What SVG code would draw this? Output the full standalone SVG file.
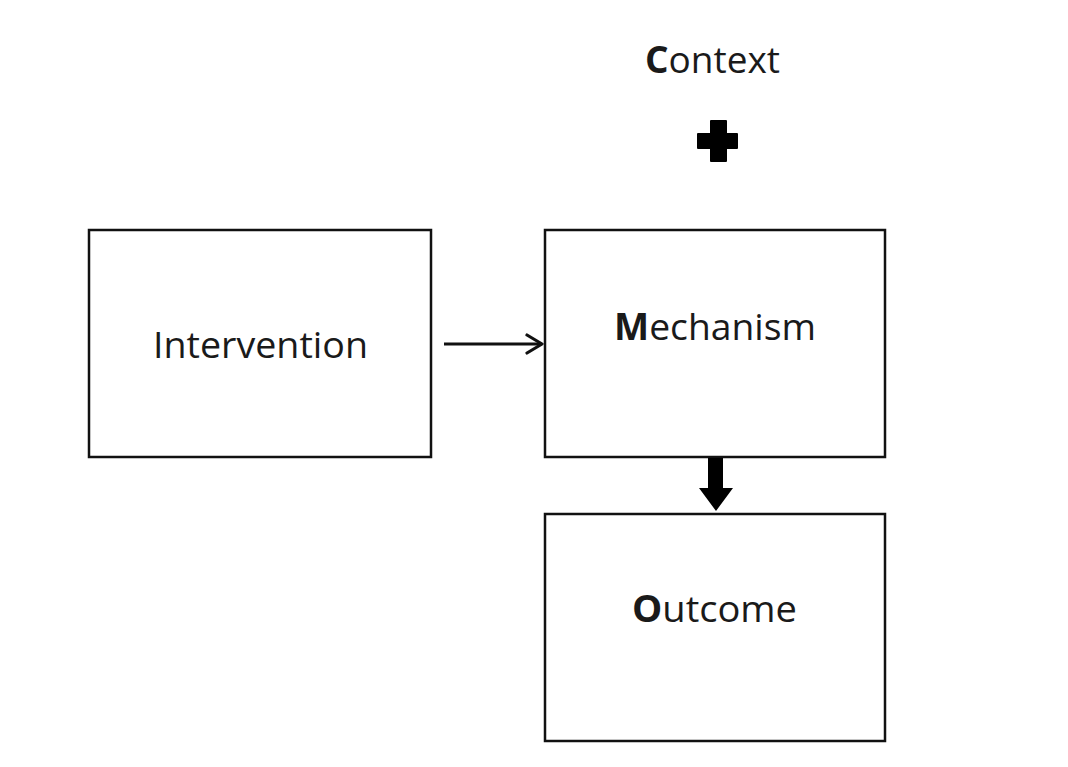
<svg xmlns="http://www.w3.org/2000/svg" width="1068" height="767" viewBox="0 0 1068 767">
<defs>
<style>
.box{fill:#fff;stroke:#111;stroke-width:2.5}
.t{font-family:"Open Sans","Liberation Sans",sans-serif;font-size:37px;fill:#1a1a1a}
.b{font-weight:bold}
</style>
<marker id="open" viewBox="0 0 20 22" refX="18" refY="11" markerWidth="20" markerHeight="22" markerUnits="userSpaceOnUse" orient="auto">
<path d="M3,2 L18,11 L3,20" fill="none" stroke="#111" stroke-width="3.2" stroke-linecap="round" stroke-linejoin="round"/>
</marker>
</defs>
<rect width="1068" height="767" fill="#fff"/>
<g id="context">
<text class="t" x="645" y="73" textLength="135" lengthAdjust="spacingAndGlyphs"><tspan class="b">C</tspan>ontext</text>
<path d="M710,121 Q710,120 711,120 H726 Q727,120 727,121 V133 H737 Q738,133 738,134 V148 Q738,149 737,149 H727 V161 Q727,162 726,162 H711 Q710,162 710,161 V149 H698 Q697,149 697,148 V134 Q697,133 698,133 H710 Z" fill="#000"/>
</g>
<g id="intervention">
<rect class="box" x="89" y="230" width="342" height="227"/>
<text class="t" x="153" y="358" textLength="215" lengthAdjust="spacingAndGlyphs">Intervention</text>
</g>
<g id="mechanism">
<rect class="box" x="545" y="230" width="340" height="227"/>
<text class="t" x="614" y="340" textLength="202" lengthAdjust="spacingAndGlyphs"><tspan class="b">M</tspan>echanism</text>
</g>
<g id="outcome">
<rect class="box" x="545" y="514" width="340" height="227"/>
<text class="t" x="632" y="622" textLength="165" lengthAdjust="spacingAndGlyphs"><tspan class="b">O</tspan>utcome</text>
</g>
<g id="connectors">
<line x1="444" y1="344" x2="542" y2="344" stroke="#111" stroke-width="3" marker-end="url(#open)"/>
<path d="M708,458 H723 V488 H733 L716,511 L699,488 H708 Z" fill="#000"/>
</g>
</svg>
